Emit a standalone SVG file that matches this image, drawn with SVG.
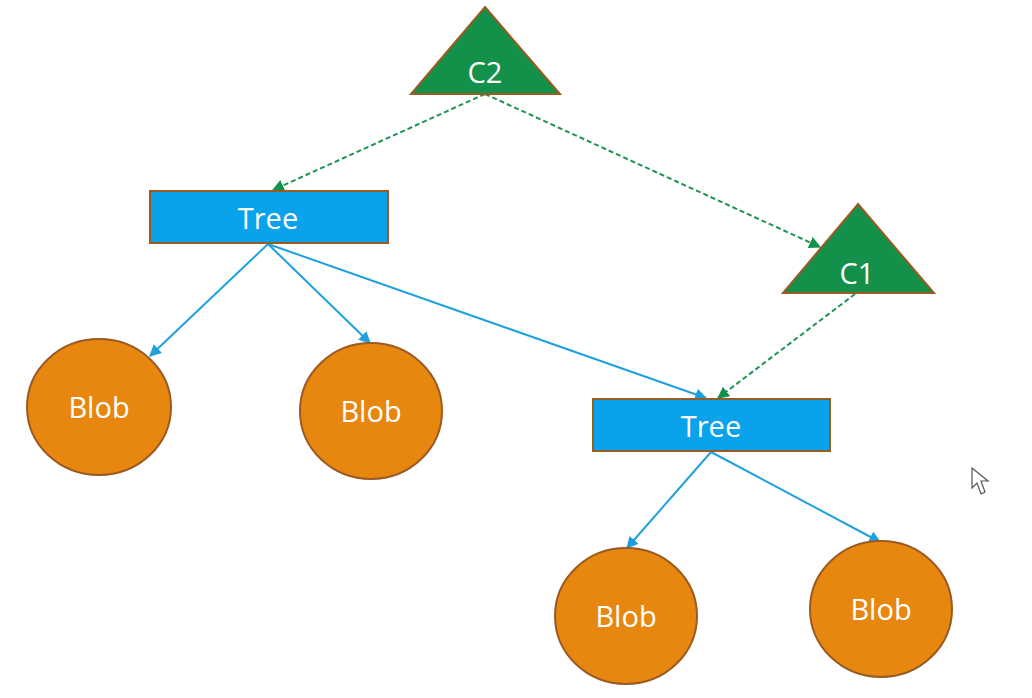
<svg xmlns="http://www.w3.org/2000/svg" width="1032" height="698" viewBox="0 0 1032 698">
<defs>
<style>
.tri{fill:#13904a;stroke:#9a5a22;stroke-width:2}
.rect{fill:#0aa2ea;stroke:#9a5a22;stroke-width:2}
.blob{fill:#e8870f;stroke:#9a5a22;stroke-width:2}
.lbl{font-family:"Open Sans","Liberation Sans",sans-serif;font-size:29px;fill:#ffffff;text-anchor:middle}
.solid{stroke:#1ea0de;stroke-width:2;fill:none;marker-end:url(#ab)}
.dash{stroke:#1e9250;stroke-width:2;fill:none;stroke-dasharray:5,3;marker-end:url(#ag)}
</style>
<marker id="ab" viewBox="0 0 10 10" refX="9" refY="5" markerWidth="6" markerHeight="6" orient="auto" markerUnits="strokeWidth">
<path d="M0,0 L10,5 L0,10 z" fill="#1ea0de"/>
</marker>
<marker id="ag" viewBox="0 0 10 10" refX="9" refY="5" markerWidth="6" markerHeight="6" orient="auto" markerUnits="strokeWidth">
<path d="M0,0 L10,5 L0,10 z" fill="#13904a"/>
</marker>
</defs>
<rect width="1032" height="698" fill="#ffffff"/>
<g id="connectors">
<line class="dash" x1="485" y1="94" x2="273" y2="190"/>
<line class="dash" x1="485" y1="94" x2="820" y2="247"/>
<line class="dash" x1="855" y1="294" x2="718" y2="398"/>
<line class="solid" x1="268" y1="244" x2="150" y2="356"/>
<line class="solid" x1="268" y1="244" x2="370" y2="343"/>
<line class="solid" x1="268" y1="244" x2="706" y2="398"/>
<line class="solid" x1="711" y1="452" x2="627" y2="548"/>
<line class="solid" x1="711" y1="452" x2="880" y2="542"/>
</g>
<g id="c2">
<polygon class="tri" points="485,7 560,94 411,94"/>
<text class="lbl" x="485" y="83">C2</text>
</g>
<g id="tree1">
<rect class="rect" x="150" y="191" width="238" height="52"/>
<text class="lbl" x="268" y="229">Tree</text>
</g>
<g id="c1">
<polygon class="tri" points="858,204 934,293 783,293"/>
<text class="lbl" x="857" y="284">C1</text>
</g>
<g id="tree2">
<rect class="rect" x="593" y="399" width="237" height="52"/>
<text class="lbl" x="711" y="437">Tree</text>
</g>
<g id="blob1">
<ellipse class="blob" cx="99" cy="407" rx="72" ry="68"/>
<text class="lbl" x="99" y="418">Blob</text>
</g>
<g id="blob2">
<ellipse class="blob" cx="371" cy="411" rx="71" ry="68"/>
<text class="lbl" x="371" y="422">Blob</text>
</g>
<g id="blob3">
<ellipse class="blob" cx="626" cy="616" rx="71" ry="68"/>
<text class="lbl" x="626" y="627">Blob</text>
</g>
<g id="blob4">
<ellipse class="blob" cx="881" cy="609" rx="71" ry="68"/>
<text class="lbl" x="881" y="620">Blob</text>
</g>
<path d="M972,468 L972,488 L977,483 L981,494 L985,492 L981,481 L988,481 Z" fill="#ffffff" stroke="#555555" stroke-width="1.2"/>
</svg>
